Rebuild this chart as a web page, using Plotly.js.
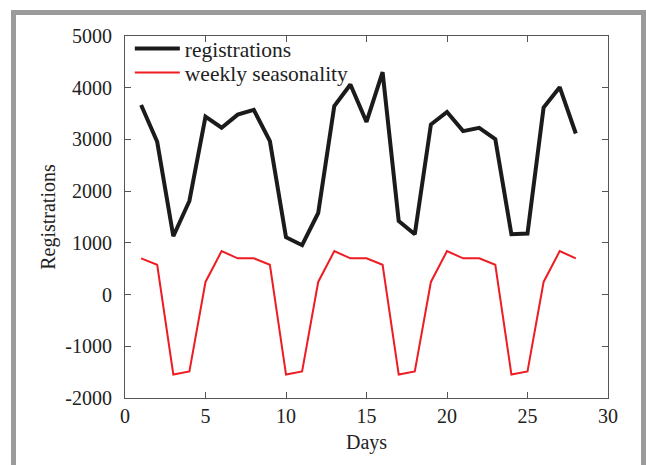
<!DOCTYPE html>
<html>
<head>
<meta charset="utf-8">
<script src="https://cdn.plot.ly/plotly-3.0.1.min.js"></script>
<style>
  html, body { margin: 0; padding: 0; background: #fff; }
  #wrap { position: relative; width: 646px; height: 465px; overflow: hidden; }
  #chart { position: absolute; left: 0; top: 0; width: 646px; height: 465px; }
  #frame { position: absolute; left: 11px; top: 10px; width: 635px; height: 470px;
           box-sizing: border-box; border: 5px solid #9b9b9b; border-bottom: none; pointer-events: none; }
</style>
</head>
<body>
<div id="wrap">
  <div id="chart"></div>
  <div id="frame"></div>
</div>
<script>
const days = [1,2,3,4,5,6,7,8,9,10,11,12,13,14,15,16,17,18,19,20,21,22,23,24,25,26,27,28];
const registrations = [3665,2954,1128,1810,3442,3227,3480,3570,2968,1109,955,1577,3646,4063,3338,4300,1423,1167,3288,3531,3160,3223,3006,1167,1179,3615,4010,3115];
const weeklySeasonality = [700,577,-1545,-1487,244,840,700,700,577,-1545,-1487,244,840,700,700,577,-1545,-1487,244,840,700,700,577,-1545,-1487,244,840,700];
const xTicks = [0,5,10,15,20,25,30];
const yTicks = [-2000,-1000,0,1000,2000,3000,4000,5000];

const font = "Liberation Serif, Times New Roman, serif";

const traces = [
  { x: days, y: registrations, type: 'scatter', mode: 'lines', name: 'registrations',
    line: { color: '#1b1b1b', width: 4 }, legend: 'legend' },
  { x: days, y: weeklySeasonality, type: 'scatter', mode: 'lines', name: 'weekly seasonality',
    line: { color: '#ee1d23', width: 2 }, legend: 'legend2' }
];

const axisCommon = {
  showgrid: false, zeroline: false, showline: true, linecolor: '#555', linewidth: 1,
  mirror: 'ticks', ticks: 'inside', ticklen: 6, tickcolor: '#555', tickwidth: 1,
  tickfont: { family: font, size: 20, color: '#222' }
};

const legendCommon = { xanchor: 'left', yanchor: 'top', bgcolor: 'rgba(0,0,0,0)',
  font: { family: font, size: 21.5, color: '#222' }, itemwidth: 45 };

const layout = {
  width: 646, height: 465,
  margin: { l: 125, r: 38, t: 36, b: 67 },
  paper_bgcolor: '#fff', plot_bgcolor: '#fff',
  showlegend: true,
  legend: Object.assign({}, legendCommon, { x: 0.01, y: 1.022 }),
  legend2: Object.assign({}, legendCommon, { x: 0.01, y: 0.956 }),
  xaxis: Object.assign({}, axisCommon, {
    range: [0, 30], tickvals: xTicks, ticktext: xTicks.map(String),
    title: { text: 'Days', font: { family: font, size: 20, color: '#222' }, standoff: 8 }
  }),
  yaxis: Object.assign({}, axisCommon, {
    range: [-2000, 5000], tickvals: yTicks, ticktext: yTicks.map(String),
    ticklabelstandoff: 8,
    title: { text: 'Registrations', font: { family: font, size: 20, color: '#222' }, standoff: 4 }
  })
};

Plotly.newPlot('chart', traces, layout, { displayModeBar: false, staticPlot: true });
</script>
</body>
</html>
